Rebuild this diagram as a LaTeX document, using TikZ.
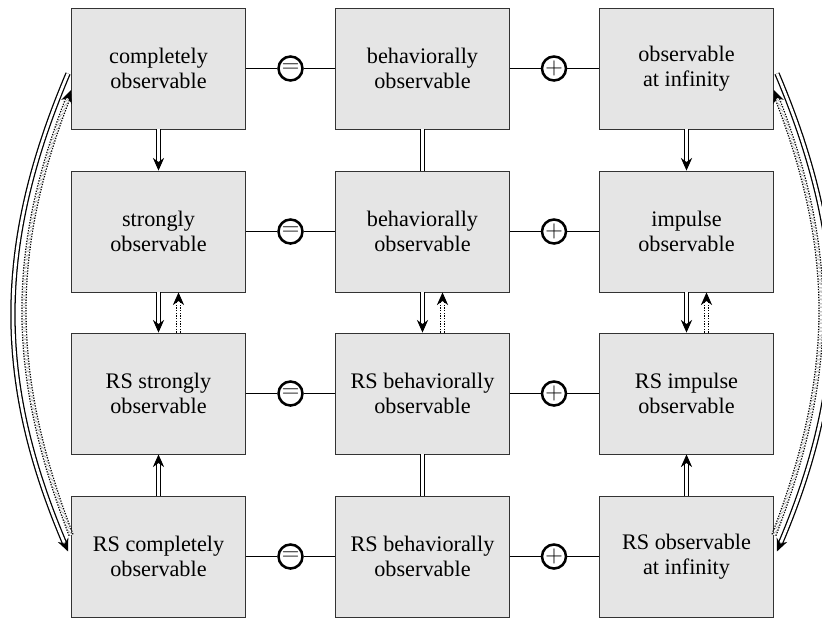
\documentclass[tikz,border=0pt]{standalone}
\usepackage{fontspec}
\setmainfont{Liberation Serif}
\usetikzlibrary{arrows.meta,decorations.markings}

\tikzset{
  caja/.style={draw=black!80, line width=0.6pt, fill=black!10,
    minimum width=4.35cm, minimum height=3.025cm, align=center,
    font=\fontsize{15.8}{17.5}\selectfont},
  op/.style={circle, draw, line width=1.8pt, fill=white, inner sep=0pt,
    minimum size=0.6cm, font=\fontsize{16}{16}\selectfont},
  enlace/.style={line width=1pt},
  doble/.style={double, double distance=2pt, line width=0.9pt},
  punta/.style={postaction={decorate, decoration={markings,
    mark=at position 0.9999 with {\pgfsetinnerlinewidth{0pt}\pgfsetdash{}{0pt}%
      \arrow[line width=0.8pt]{Stealth[length=9pt,width=8pt]}}}}},
  implica/.style={doble, shorten >=7pt, punta},
  implicapunto/.style={implica, densely dotted}
}

\begin{document}
\begin{tikzpicture}[x=0.025cm, y=-0.025cm]
    \useasboundingbox (0,0) rectangle (822,620);

    % Dibuja las cajas
    \node[caja] (a1) at (158.5,68.5) {completely\\observable};
    \node[caja] (a2) at (422.5,68.5) {behaviorally\\observable};
    \node[caja] (a3) at (686.5,68.5) {observable\\at infinity};

    \node[caja] (b1) at (158.5,231.5) {strongly\\observable};
    \node[caja] (b2) at (422.5,231.5) {behaviorally\\observable};
    \node[caja] (b3) at (686.5,231.5) {impulse\\observable};

    \node[caja] (c1) at (158.5,393.5) {RS strongly\\observable};
    \node[caja] (c2) at (422.5,393.5) {RS behaviorally\\observable};
    \node[caja] (c3) at (686.5,393.5) {RS impulse\\observable};

    \node[caja] (d1) at (158.5,556.5) {RS completely\\observable};
    \node[caja] (d2) at (422.5,556.5) {RS behaviorally\\observable};
    \node[caja] (d3) at (686.5,556.5) {RS observable\\at infinity};

    % Dibuja los operadores entre columnas
    \node[op] (ea) at (290.5,68.5) {$=$};
    \node[op] (pa) at (554,68.5) {$+$};
    \node[op] (eb) at (290.5,231.5) {$=$};
    \node[op] (pb) at (554,231.5) {$+$};
    \node[op] (ec) at (290.5,393.5) {$=$};
    \node[op] (pc) at (554,393.5) {$+$};
    \node[op] (ed) at (290.5,556.5) {$=$};
    \node[op] (pd) at (554,556.5) {$+$};

    \draw[enlace] (a1) -- (ea) -- (a2) -- (pa) -- (a3);
    \draw[enlace] (b1) -- (eb) -- (b2) -- (pb) -- (b3);
    \draw[enlace] (c1) -- (ec) -- (c2) -- (pc) -- (c3);
    \draw[enlace] (d1) -- (ed) -- (d2) -- (pd) -- (d3);

    % Dibuja las implicaciones verticales
    \draw[implica] (a1) -- (b1);
    \draw[doble] (a2) -- (b2);
    \draw[implica] (a3) -- (b3);

    \draw[implica] (b1) -- (c1);
    \draw[implicapunto] ([xshift=0.5cm]c1.north) -- ([xshift=0.5cm]b1.south);
    \draw[implica] (b2) -- (c2);
    \draw[implicapunto] ([xshift=0.5cm]c2.north) -- ([xshift=0.5cm]b2.south);
    \draw[implica] (b3) -- (c3);
    \draw[implicapunto] ([xshift=0.5cm]c3.north) -- ([xshift=0.5cm]b3.south);

    \draw[implica] (d1) -- (c1);
    \draw[doble] (c2) -- (d2);
    \draw[implica] (d3) -- (c3);

    % Dibuja los arcos laterales
    \draw[implica] ([shift={(-3,5)}]a1.west) to[bend right=23] ([shift={(-3,-5)}]d1.west);
    \draw[implicapunto] ([shift={(0,-21.5)}]d1.west) to[bend left=21] ([shift={(0,21.5)}]a1.west);
    \draw[implica] ([shift={(3,5)}]a3.east) to[bend left=23] ([shift={(3,-5)}]d3.east);
    \draw[implicapunto] ([shift={(0,-21.5)}]d3.east) to[bend right=21] ([shift={(0,21.5)}]a3.east);
\end{tikzpicture}
\end{document}
